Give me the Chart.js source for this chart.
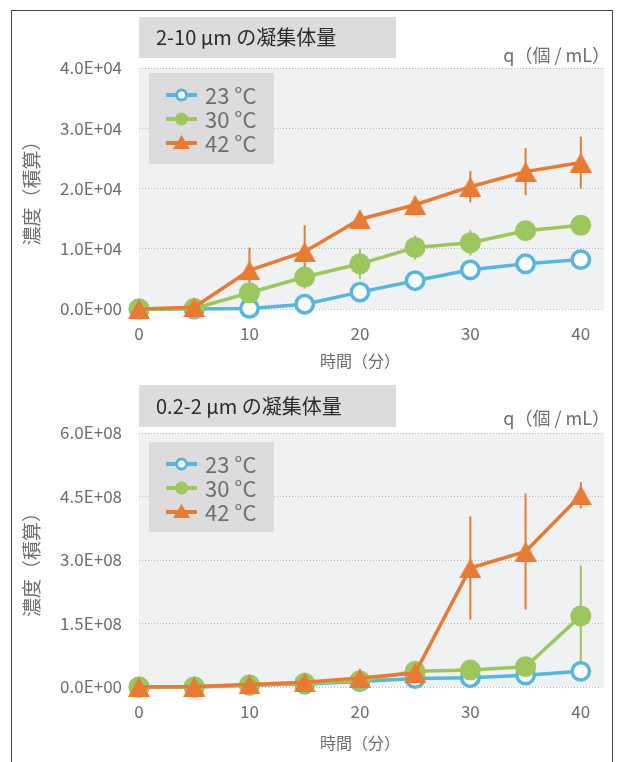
<!DOCTYPE html>
<html>
<head>
<meta charset="utf-8">
<script src="https://cdn.jsdelivr.net/npm/chart.js@4.4.1/dist/chart.umd.min.js"></script>
<style>
  html, body { margin: 0; padding: 0; background: #fff; }
  #wrap { position: relative; width: 618px; height: 762px; overflow: hidden; }
  #frame { position: absolute; left: 11px; top: 10px; width: 602px; height: 800px;
           border: 1px solid #4a4a4a; box-sizing: border-box; }
  .box { position: absolute; left: 0; width: 618px; }
</style>
</head>
<body>
<div id="wrap">
  <div id="frame"></div>
  <div class="box" style="top:0;height:376px"><canvas id="chartLarge"></canvas></div>
  <div class="box" style="top:376px;height:386px"><canvas id="chartSmall"></canvas></div>
</div>
<script>
// sampling times (minutes)
const minutes = [0, 5, 10, 15, 20, 25, 30, 35, 40];
const seriesLabels = ['23 °C', '30 °C', '42 °C'];
const xTicks = [0, 10, 20, 30, 40];

// 2-10 µm aggregate volume, q (count / mL)
const large23 = [0, 0, 100, 800, 2800, 4700, 6500, 7500, 8200];
const large30 = [0, 100, 2700, 5300, 7500, 10200, 11000, 13000, 13900];
const large42 = [0, 300, 6400, 9500, 14900, 17300, 20300, 22800, 24300];
const large30Err = [0, 0, 0, 1900, 2500, 2000, 2100, 0, 0];
const large42Err = [0, 0, 3800, 4400, 0, 0, 2600, 3900, 4300];
const largeTicks = [0, 1e4, 2e4, 3e4, 4e4];
const largeTickLabels = ['0.0E+00', '1.0E+04', '2.0E+04', '3.0E+04', '4.0E+04'];

// 0.2-2 µm aggregate volume, q (count / mL)
const small23 = [0, 0, 4e6, 7e6, 1.3e7, 2.0e7, 2.2e7, 2.8e7, 3.7e7];
const small30 = [0, 0, 5e6, 9e6, 1.5e7, 3.7e7, 4.0e7, 4.8e7, 1.68e8];
const small42 = [0, 1e6, 6e6, 1.1e7, 2.1e7, 3.3e7, 2.81e8, 3.2e8, 4.53e8];
const small30Err = [0, 0, 0, 0, 0, 0, 0, 0, 1.19e8];
const small42Err = [0, 0, 0, 0, 0, 0, 1.22e8, 1.37e8, 3.1e7];
const smallTicks = [0, 1.5e8, 3.0e8, 4.5e8, 6.0e8];
const smallTickLabels = ['0.0E+00', '1.5E+08', '3.0E+08', '4.5E+08', '6.0E+08'];

const BLUE = '#55b6e2', GREEN = '#9cc75a', ORANGE = '#ea7a30';
const FONT = '"Noto Sans CJK JP", "Noto Sans", sans-serif';
const TEXT_GRAY = '#6e6e6e';

function triangleImage(color, w, h) {
  const c = document.createElement('canvas');
  c.width = w; c.height = h;
  const g = c.getContext('2d');
  g.fillStyle = color;
  g.beginPath();
  g.moveTo(w / 2, 0); g.lineTo(w, h); g.lineTo(0, h);
  g.closePath(); g.fill();
  return c;
}
const tri = triangleImage(ORANGE, 22, 20);

const pairs = ys => minutes.map((m, i) => ({ x: m, y: ys[i] }));

function makeDatasets(s23, s30, s42, e30, e42) {
  return [
    { label: seriesLabels[0], data: pairs(s23), borderColor: BLUE, borderWidth: 3.5,
      pointStyle: 'circle', pointRadius: 8.7, pointBorderWidth: 3.5,
      pointBackgroundColor: '#fff', pointBorderColor: BLUE, order: 3, clip: false },
    { label: seriesLabels[1], data: pairs(s30), errors: e30, borderColor: GREEN, borderWidth: 3.5,
      pointStyle: 'circle', pointRadius: 10.5, pointBorderWidth: 0,
      pointBackgroundColor: GREEN, pointBorderColor: GREEN, order: 2, clip: false },
    { label: seriesLabels[2], data: pairs(s42), errors: e42, borderColor: ORANGE, borderWidth: 3.5,
      pointStyle: tri, pointRadius: 10, order: 1, clip: false }
  ];
}

// panel decorations: plot background, caption box, unit, legend, axis titles
const panelDeco = {
  id: 'panelDeco',
  beforeDraw(chart, args, o) {
    const { ctx, chartArea: a } = chart;
    ctx.save();
    ctx.fillStyle = '#f0f1f3';
    ctx.fillRect(a.left, a.top, a.right - a.left, a.bottom - a.top);

    ctx.fillStyle = '#dcdcde';
    ctx.fillRect(o.captionBox.x, o.captionBox.y, o.captionBox.w, o.captionBox.h);
    ctx.fillStyle = '#2a2a2a';
    ctx.font = '20px ' + FONT;
    ctx.textBaseline = 'middle';
    ctx.textAlign = 'left';
    ctx.fillText(o.caption, o.captionBox.x + 17, o.captionBox.y + o.captionBox.h / 2);

    ctx.fillStyle = TEXT_GRAY;
    ctx.font = '18px ' + FONT;
    ctx.textAlign = 'right';
    ctx.fillText('q（個 / mL）', a.right + 6, o.unitY);

    // x axis title
    const xs = chart.scales.x;
    ctx.textAlign = 'center';
    ctx.font = '16px ' + FONT;
    ctx.fillText('時間（分）', xs.getPixelForValue(20), a.bottom + o.xTitleOffset);

    // y axis title
    ctx.translate(32, (a.top + a.bottom) / 2);
    ctx.rotate(-Math.PI / 2);
    ctx.font = '19px ' + FONT;
    ctx.fillText('濃度（積算）', 0, 0);
    ctx.restore();
  },
  beforeDatasetsDraw(chart, args, o) {
    const { ctx } = chart;
    const ys = chart.scales.y;
    ctx.save();
    // legend
    const L = o.legend;
    ctx.fillStyle = '#dcdcde';
    ctx.fillRect(L.x, L.y, L.w, L.h);
    chart.data.datasets.forEach((ds, i) => {
      const cy = L.y + 22 + i * 24;
      ctx.strokeStyle = ds.borderColor;
      ctx.lineWidth = 4;
      ctx.beginPath(); ctx.moveTo(L.x + 17, cy); ctx.lineTo(L.x + 48, cy); ctx.stroke();
      const cx = L.x + 32.5;
      if (i === 0) {
        ctx.beginPath(); ctx.arc(cx, cy, 5, 0, Math.PI * 2);
        ctx.fillStyle = '#fff'; ctx.fill();
        ctx.lineWidth = 3; ctx.stroke();
      } else if (i === 1) {
        ctx.beginPath(); ctx.arc(cx, cy, 6.5, 0, Math.PI * 2);
        ctx.fillStyle = ds.borderColor; ctx.fill();
      } else {
        ctx.beginPath();
        ctx.moveTo(cx, cy - 8); ctx.lineTo(cx + 8.5, cy + 6); ctx.lineTo(cx - 8.5, cy + 6);
        ctx.closePath(); ctx.fillStyle = ds.borderColor; ctx.fill();
      }
      ctx.fillStyle = TEXT_GRAY;
      ctx.font = '22px ' + FONT;
      ctx.textAlign = 'left';
      ctx.textBaseline = 'middle';
      ctx.fillText(ds.label, L.x + 56, cy + 1);
    });
    // error bars
    chart.data.datasets.forEach((ds, i) => {
      if (!ds.errors) return;
      const meta = chart.getDatasetMeta(i);
      ctx.strokeStyle = ds.borderColor;
      ctx.lineWidth = 2;
      ds.errors.forEach((e, j) => {
        if (!e) return;
        const v = ds.data[j].y;
        const px = meta.data[j].x;
        ctx.beginPath();
        ctx.moveTo(px, ys.getPixelForValue(v + e));
        ctx.lineTo(px, ys.getPixelForValue(v - e));
        ctx.stroke();
      });
    });
    ctx.restore();
  }
};

function makeChart(id, datasets, yMax, tickVals, tickLabels, deco, padTop, xHeight) {
  return new Chart(document.getElementById(id), {
    type: 'line',
    data: { datasets },
    plugins: [panelDeco],
    options: {
      responsive: true,
      maintainAspectRatio: false,
      animation: false,
      layout: { padding: { left: 0, right: 14, top: padTop, bottom: 0 } },
      plugins: { legend: { display: false }, tooltip: { enabled: false }, panelDeco: deco },
      scales: {
        x: {
          type: 'linear', min: 0, max: 42.1,
          afterBuildTicks: s => { s.ticks = xTicks.map(v => ({ value: v })); },
          afterFit: s => { s.height = xHeight; },
          grid: { display: false, drawTicks: false },
          border: { display: false },
          ticks: { padding: 14, color: TEXT_GRAY, font: { family: FONT, size: 17 } }
        },
        y: {
          min: 0, max: yMax,
          afterBuildTicks: s => { s.ticks = tickVals.map(v => ({ value: v })); },
          afterFit: s => { s.width = 139; },
          grid: { color: '#b9b9b9', lineWidth: 1, drawTicks: false },
          border: { display: false, dash: [1, 2] },
          ticks: {
            padding: 17, color: TEXT_GRAY, font: { family: FONT, size: 17 },
            callback: v => tickLabels[tickVals.indexOf(v)]
          }
        }
      }
    }
  });
}

makeChart('chartLarge',
  makeDatasets(large23, large30, large42, large30Err, large42Err),
  4e4, largeTicks, largeTickLabels,
  { caption: '2-10 µm の凝集体量', captionBox: { x: 139, y: 17, w: 257, h: 41 },
    unitY: 55, legend: { x: 149, y: 73, w: 125, h: 91 }, xTitleOffset: 52 },
  68, 67);

makeChart('chartSmall',
  makeDatasets(small23, small30, small42, small30Err, small42Err),
  6e8, smallTicks, smallTickLabels,
  { caption: '0.2-2 µm の凝集体量', captionBox: { x: 139, y: 9, w: 257, h: 42 },
    unitY: 42, legend: { x: 149, y: 66, w: 125, h: 90 }, xTitleOffset: 56 },
  57, 75);
</script>
</body>
</html>
